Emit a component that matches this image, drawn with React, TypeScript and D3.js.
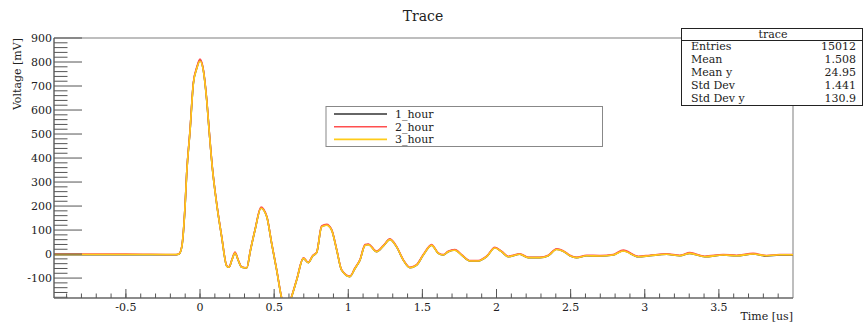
import React from "react";
import * as d3 from "d3";

// sample times [us]
const times = [
  -0.985, -0.5, -0.16, -0.142, -0.123, -0.101, -0.09, -0.067, -0.045, -0.022,
  0, 0.022, 0.045, 0.063, 0.083, 0.112, 0.146, 0.18, 0.196, 0.215,
  0.236, 0.26, 0.281, 0.315, 0.34, 0.371, 0.411, 0.45, 0.483, 0.517,
  0.551, 0.585, 0.614, 0.652, 0.697, 0.73, 0.76, 0.787, 0.82, 0.854,
  0.888, 0.922, 0.955, 1.011, 1.045, 1.079, 1.113, 1.135, 1.191, 1.236,
  1.281, 1.326, 1.371, 1.416, 1.461, 1.506, 1.562, 1.607, 1.641, 1.674,
  1.719, 1.765, 1.821, 1.877, 1.933, 1.989, 2.034, 2.079, 2.158, 2.214,
  2.293, 2.349, 2.405, 2.45, 2.495, 2.54, 2.608, 2.697, 2.787, 2.855,
  2.956, 3.034, 3.147, 3.237, 3.304, 3.405, 3.529, 3.619, 3.731, 3.821,
  3.911, 4.0,
];

// voltages [mV]
const hour1 = [
  -3, -3, -3, 0, 30, 197, 335, 517, 711, 774,
  808, 767, 642, 503, 360, 211, 72, -50, -55, -25,
  5, -30, -55, -58, 15, 100, 192, 156, 45, -67,
  -185, -235, -185, -108, -18, -36, -8, 6, 114, 121,
  100, 17, -67, -94, -60, -25, 37, 40, 10, 33,
  61, 30, -25, -57, -46, -4, 37, 3, -4, 10,
  17, -4, -29, -29, -11, 26, 10, -11, -1, -15,
  -15, -7, 20, 12, -7, -15, -7, -8, -4, 14,
  -11, -7, -1, -7, 3, -11, -4, -7, 0, -8,
  -4, -4,
];
const hour2 = [
  0, 0, -2, 1, 32, 200, 338, 520, 714, 778,
  812, 770, 645, 506, 362, 213, 74, -48, -54, -23,
  8, -28, -54, -57, 17, 102, 196, 158, 47, -65,
  -183, -233, -183, -106, -16, -34, -6, 8, 117, 124,
  102, 19, -65, -92, -58, -23, 40, 42, 12, 35,
  64, 32, -23, -55, -44, -2, 40, 5, -2, 12,
  19, -2, -27, -27, -9, 28, 12, -9, 1, -13,
  -13, -5, 22, 14, -5, -13, -5, -6, -2, 17,
  -9, -5, 1, -5, 6, -9, -2, -5, 3, -6,
  -2, -2,
];
const hour3 = [
  -2, -2, -2, 0, 30, 198, 334, 516, 709, 772,
  804, 765, 641, 502, 359, 210, 72, -50, -55, -25,
  4, -30, -55, -58, 15, 100, 191, 155, 45, -67,
  -185, -235, -185, -108, -18, -36, -8, 6, 113, 120,
  99, 17, -67, -94, -60, -25, 36, 39, 10, 33,
  60, 30, -25, -57, -46, -4, 36, 3, -4, 10,
  16, -4, -29, -29, -11, 25, 10, -11, -1, -15,
  -15, -7, 19, 12, -7, -15, -7, -8, -4, 13,
  -11, -7, -1, -7, 3, -11, -4, -7, 0, -7,
  -3, -3,
];

const seriesNames = ["1_hour", "2_hour", "3_hour"];
const seriesColors = ["#333333", "#ff4f4f", "#ffcc1a"];
const seriesValues = [hour1, hour2, hour3];

const xTicks = [-0.5, 0, 0.5, 1, 1.5, 2, 2.5, 3, 3.5];
const yTicks = [-100, 0, 100, 200, 300, 400, 500, 600, 700, 800, 900];

const statsLabels = ["Entries", "Mean", "Mean y", "Std Dev", "Std Dev y"];
const statsValues = ["15012", "1.508", "24.95", "1.441", "130.9"];

const W = 863;
const H = 324;
const left = 54;
const right = 793;
const top = 38;
const bottom = 298;
const FONT = "'DejaVu Serif', 'Liberation Serif', serif";

export default function App() {
  const x = d3.scaleLinear().domain([-0.985, 4.0]).range([left, right]);
  const y = d3.scaleLinear().domain([-183, 900]).range([bottom, top]);

  const line = d3
    .line<number>()
    .x((_, i) => x(times[i]))
    .y((d) => y(d))
    .curve(d3.curveMonotoneX);

  const xMinor = d3.range(-9, 40).map((i) => i / 10);
  const yMinor = d3.range(-9, 46).map((i) => i * 20);

  return (
    <svg
      width={W}
      height={H}
      style={{ position: "absolute", left: 0, top: 0, background: "#fff", fontFamily: FONT }}
    >
      <defs>
        <clipPath id="plot">
          <rect x={left} y={top} width={right - left} height={bottom - top} />
        </clipPath>
      </defs>

      <text x={423} y={21} textAnchor="middle" fontSize={14} fill="#222">
        Trace
      </text>

      {/* frame */}
      <line x1={left} x2={right} y1={top} y2={top} stroke="#a8a8a8" strokeWidth={1.5} />
      <line x1={right} x2={right} y1={top} y2={bottom} stroke="#a8a8a8" strokeWidth={1.5} />

      {/* traces */}
      <g clipPath="url(#plot)">
        {seriesValues.map((vals, i) => (
          <path
            key={seriesNames[i]}
            d={line(vals) || ""}
            fill="none"
            stroke={seriesColors[i]}
            strokeWidth={1.6}
            strokeLinejoin="round"
          />
        ))}
      </g>

      {/* y axis */}
      <line x1={left} x2={left} y1={top} y2={bottom} stroke="#666" strokeWidth={1.5} />
      {yMinor
        .filter((v) => v >= -183 && v <= 900 && v % 100 !== 0)
        .map((v) => (
          <line key={"ym" + v} x1={left} x2={left + 13.5} y1={y(v)} y2={y(v)} stroke="#555" />
        ))}
      {yTicks.map((v) => (
        <g key={"y" + v}>
          <line x1={left} x2={left + 28} y1={y(v)} y2={y(v)} stroke="#555" />
          <text x={left - 2} y={y(v)} dy="0.35em" textAnchor="end" fontSize={11} fill="#222">
            {v}
          </text>
        </g>
      ))}
      <text
        transform={`translate(21,${top}) rotate(-90)`}
        textAnchor="end"
        fontSize={11}
        fill="#222"
      >
        Voltage [mV]
      </text>

      {/* x axis */}
      <line x1={left} x2={right} y1={bottom} y2={bottom} stroke="#666" strokeWidth={1.5} />
      {xMinor.map((v) => (
        <line key={"xm" + v} x1={x(v)} x2={x(v)} y1={bottom} y2={bottom - 4.5} stroke="#555" />
      ))}
      {xTicks.map((v) => (
        <g key={"x" + v}>
          <line x1={x(v)} x2={x(v)} y1={bottom} y2={bottom - 9} stroke="#555" />
          <text x={x(v)} y={311} textAnchor="middle" fontSize={11} fill="#222">
            {v}
          </text>
        </g>
      ))}
      <text x={right} y={320} textAnchor="end" fontSize={11} fill="#222">
        Time [us]
      </text>

      {/* legend */}
      <rect x={326} y={106.5} width={276.5} height={40} fill="#fff" stroke="#888" />
      {seriesNames.map((name, i) => (
        <g key={"lg" + name}>
          <line
            x1={334}
            x2={387}
            y1={114 + i * 12.7}
            y2={114 + i * 12.7}
            stroke={seriesColors[i]}
            strokeWidth={1.6}
          />
          <text x={395} y={114 + i * 12.7} dy="0.35em" fontSize={11} fill="#222">
            {name}
          </text>
        </g>
      ))}

      {/* stats box */}
      <rect x={681.5} y={28.5} width={181} height={77} fill="#fff" stroke="#222" />
      <line x1={681.5} x2={862.5} y1={40.5} y2={40.5} stroke="#222" />
      <text x={773} y={34} dy="0.35em" textAnchor="middle" fontSize={11} fill="#222">
        trace
      </text>
      {statsLabels.map((lab, i) => (
        <g key={"st" + lab}>
          <text x={691} y={46.5 + i * 13} dy="0.35em" fontSize={11} fill="#222">
            {lab}
          </text>
          <text x={856} y={46.5 + i * 13} dy="0.35em" textAnchor="end" fontSize={11} fill="#222">
            {statsValues[i]}
          </text>
        </g>
      ))}
    </svg>
  );
}
